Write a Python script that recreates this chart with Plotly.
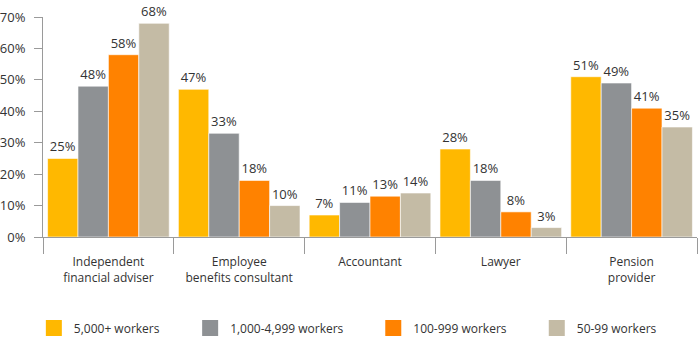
import plotly.graph_objects as go

categories = ["Independent<br>financial adviser", "Employee<br>benefits consultant", "Accountant", "Lawyer", "Pension<br>provider"]
series_names = ["5,000+ workers", "1,000-4,999 workers", "100-999 workers", "50-99 workers"]
v_5000 = [25, 47, 7, 28, 51]
v_1000 = [48, 33, 11, 18, 49]
v_100 = [58, 18, 13, 8, 41]
v_50 = [68, 10, 14, 3, 35]
colors = ["#FFB800", "#8E9194", "#FF8200", "#C4BBA5"]
y_ticks = [0, 10, 20, 30, 40, 50, 60, 70]
legend_ids = ["legend", "legend2", "legend3", "legend4"]
legend_x = [-0.014, 0.225, 0.505, 0.755]

fig = go.Figure()
for name, vals, c in zip(series_names, [v_5000, v_1000, v_100, v_50], colors):
    fig.add_trace(go.Bar(
        x=categories, y=vals, name=name, showlegend=False,
        marker=dict(color=c, line=dict(color="rgba(255,255,255,0.6)", width=1)),
        text=[f"{v}%" for v in vals], textposition="outside",
        textfont=dict(color="#333333", size=13), cliponaxis=False,
    ))
for name, c, lid in zip(series_names, colors, legend_ids):
    fig.add_trace(go.Scatter(
        x=[None], y=[None], mode="markers", name=name, legend=lid,
        marker=dict(symbol="square", size=20, color=c),
    ))

layout_legends = {}
for lid, lx in zip(legend_ids, legend_x):
    layout_legends[lid] = dict(orientation="h", x=lx, xanchor="left", y=-0.414, yanchor="middle",
                               font=dict(size=12, color="#333333"), itemsizing="trace",
                               bgcolor="rgba(0,0,0,0)")

fig.update_layout(
    width=700, height=346,
    margin=dict(l=43, r=3, t=17, b=109, autoexpand=False),
    paper_bgcolor="white", plot_bgcolor="white",
    font=dict(family="Open Sans", size=12, color="#333333"),
    barmode="group", bargap=0.07, bargroupgap=0,
    **layout_legends,
)
fig.update_xaxes(
    showline=True, linecolor="#9A9A9A", linewidth=1,
    ticks="outside", tickson="boundaries", ticklen=16, tickcolor="#9A9A9A",
    ticklabelstandoff=14,
    showgrid=False, tickfont=dict(size=12, color="#333333"),
)
fig.update_yaxes(
    range=[0, 70], tickvals=y_ticks, ticktext=[f"{t}%" for t in y_ticks],
    showline=True, linecolor="#9A9A9A", linewidth=1,
    ticks="outside", ticklen=8, tickcolor="#9A9A9A", ticklabelstandoff=6,
    showgrid=False, zeroline=False, tickfont=dict(size=13, color="#333333"),
)

fig.write_html("out.html")
